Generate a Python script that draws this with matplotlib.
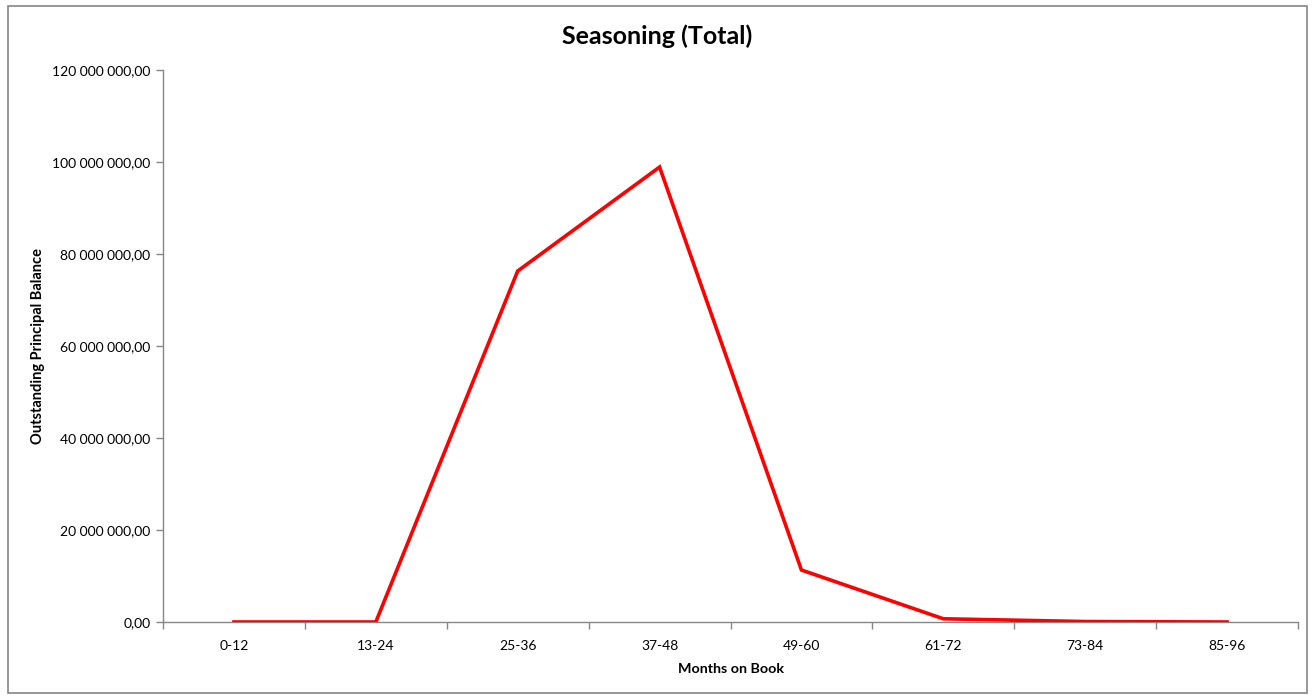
import matplotlib
matplotlib.use("Agg")
import matplotlib.pyplot as plt
from matplotlib.patches import Rectangle
from matplotlib.ticker import FuncFormatter, MultipleLocator

# data
categories = ["0-12", "13-24", "25-36", "37-48", "49-60", "61-72", "73-84", "85-96"]
balance = [0.0, 0.0, 76.3e6, 98.9e6, 11.3e6, 0.7e6, 0.1e6, 0.0]

AXIS = "#868686"
plt.rcParams["font.family"] = ["Lato", "DejaVu Sans"]

fig = plt.figure(figsize=(13.15, 6.97), dpi=100)
ax = fig.add_axes([163 / 1315, 1 - 622 / 697, (1298 - 163) / 1315, (622 - 70) / 697])

# outer chart border
fig.patches.append(Rectangle((8 / 1315, 1 - 693 / 697), (1307 - 8) / 1315, (693 - 6) / 697,
                             transform=fig.transFigure, fill=False, ec=AXIS, lw=1.2))

x = list(range(len(categories)))
ax.plot(x, balance, color="#ff0000", lw=2.6, solid_joinstyle="miter", zorder=3)

ax.set_xlim(-0.5, len(categories) - 0.5)
ax.set_ylim(0, 120e6)
ax.yaxis.set_major_locator(MultipleLocator(20e6))


def fmt(v, _):
    return f"{v:,.2f}".replace(",", " ").replace(".", ",")


ax.yaxis.set_major_formatter(FuncFormatter(fmt))
ax.set_xticks(x)
ax.set_xticklabels(categories)
ax.set_xticks([i - 0.5 for i in range(len(categories) + 1)], minor=True)
ax.tick_params(axis="x", which="major", length=0, pad=13, labelsize=10)
ax.tick_params(axis="x", which="minor", length=5, color=AXIS, width=1)
ax.tick_params(axis="y", length=5, color=AXIS, width=1, labelsize=10, pad=4)

for s in ("top", "right"):
    ax.spines[s].set_visible(False)
for s in ("left", "bottom"):
    ax.spines[s].set_color(AXIS)
    ax.spines[s].set_linewidth(1)

ax.set_xlabel("Months on Book", fontsize=10.3, fontweight="bold", labelpad=8)
ax.set_ylabel("Outstanding Principal Balance", fontsize=10.5, fontweight="bold")
ax.yaxis.set_label_coords((45 - 163) / 1135, 0.5)
fig.text(0.5, 1 - 36 / 697, "Seasoning (Total)", ha="center", va="center",
         fontsize=18, fontweight="bold")

fig.savefig("out.png", dpi=100, facecolor="white")
